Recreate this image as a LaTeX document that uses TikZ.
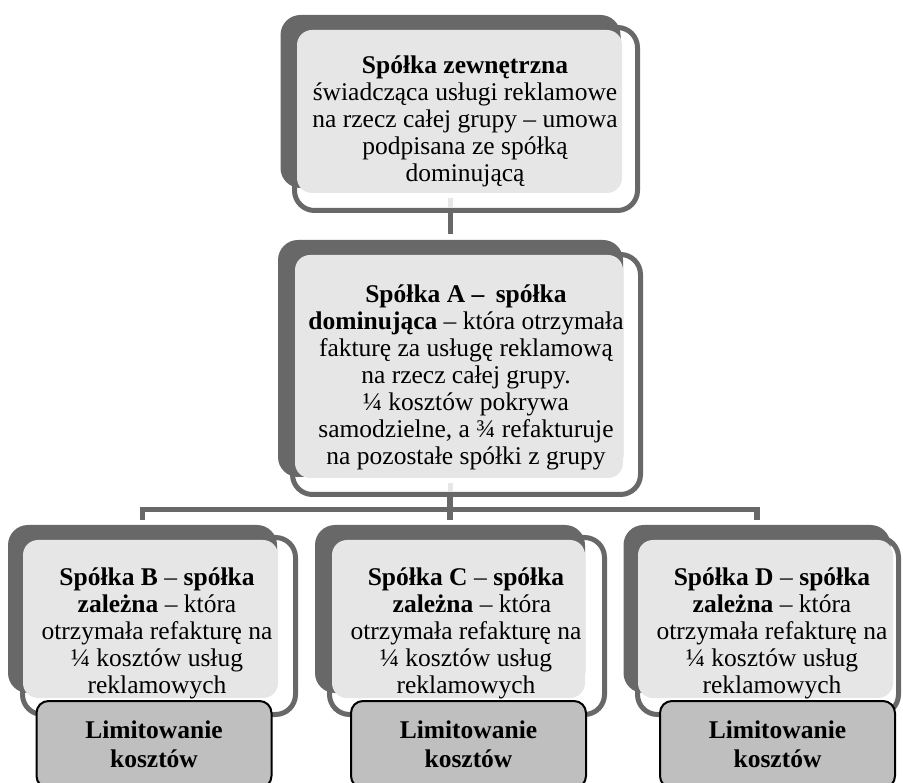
\documentclass[tikz,border=0pt]{standalone}
\usepackage{fontspec}
\setmainfont{Liberation Serif}
\usetikzlibrary{calc}
\definecolor{boxdark}{HTML}{686868}
\definecolor{boxlight}{HTML}{E6E6E6}
\definecolor{limitfill}{HTML}{BFBFBF}
\tikzstyle{back}=[rounded corners=20pt, fill=boxdark, inner sep=0pt]
\tikzstyle{rim}=[rounded corners=20pt, draw=boxdark, line width=5pt, inner sep=0pt]
\tikzstyle{face}=[rounded corners=15pt, fill=boxlight, inner sep=0pt]
\tikzstyle{txt}=[align=center, inner sep=0pt, anchor=north, font=\fontsize{25.5}{27}\selectfont]
\tikzstyle{limit}=[rounded corners=12pt, draw=black, line width=2pt, fill=limitfill, align=center, inner sep=0pt, minimum width=235pt, minimum height=87pt, font=\fontsize{25.5}{28.5}\selectfont\bfseries]
\tikzstyle{link}=[draw=boxdark, line width=5.5pt]
\tikzstyle{stub}=[draw=boxlight, line width=5.5pt]

\begin{document}
\begin{tikzpicture}[x=1pt, y=-1pt]
    \useasboundingbox (0,0) rectangle (903,783);
    % top box
    \node[back, minimum width=340pt, minimum height=173pt] (top-back) at (450.5,101.5) {};
    \node[rim, minimum width=343pt, minimum height=183pt] (top-rim) at (466,119) {};
    \node[face, minimum width=325pt, minimum height=163pt] (top-face) at (459.5,111.5) {};
    \node[txt] (top) at (465,55.4) {\textbf{Spółka zewnętrzna}\\ świadcząca usługi reklamowe\\ na rzecz całej grupy – umowa\\ podpisana ze spółką\\ dominującą};
    % company A
    \node[back, minimum width=345pt, minimum height=237pt] (a-back) at (450.5,358.5) {};
    \node[rim, minimum width=348pt, minimum height=240pt] (a-rim) at (466.5,374.5) {};
    \node[face, minimum width=328pt, minimum height=223pt] (a-face) at (459,366.5) {};
    \node[txt] (a) at (466,284.4) {\textbf{Spółka A –\hspace{0.45em}spółka}\\ \textbf{dominująca} – która otrzymała\\ fakturę za usługę reklamową\\ na rzecz całej grupy.\hspace*{22pt}\\ ¼ kosztów pokrywa\hspace*{26pt}\\ samodzielne, a ¾ refakturuje\\ na pozostałe spółki z grupy};
    % companies B, C, D
    \node[back, minimum width=269pt, minimum height=168pt] (b-back) at (142.5,609) {};
    \node[rim, minimum width=273pt, minimum height=177pt] (b-rim) at (159,626) {};
    \node[face, minimum width=255pt, minimum height=158pt] (b-face) at (150.5,619) {};
    \node[txt] (b) at (157,567.4) {\textbf{Spółka B} – \textbf{spółka}\\ \textbf{zależna} – która\\ otrzymała refakturę na\\ ¼ kosztów usług\\ reklamowych};

    \node[back, minimum width=270pt, minimum height=168pt] (c-back) at (450,609) {};
    \node[rim, minimum width=275pt, minimum height=177pt] (c-rim) at (467,626) {};
    \node[face, minimum width=253pt, minimum height=158pt] (c-face) at (458.5,619) {};
    \node[txt] (c) at (466,567.4) {\textbf{Spółka C} – \textbf{spółka}\\ \hspace*{12pt}\textbf{zależna} – która\\ otrzymała refakturę na\\ ¼ kosztów usług\\ reklamowych};

    \node[back, minimum width=267pt, minimum height=168pt] (d-back) at (757,609) {};
    \node[rim, minimum width=261pt, minimum height=177pt] (d-rim) at (768,626) {};
    \node[face, minimum width=255pt, minimum height=158pt] (d-face) at (765.5,619) {};
    \node[txt] (d) at (772,567.4) {\textbf{Spółka D} – \textbf{spółka}\\ \textbf{zależna} – która\\ otrzymała refakturę na\\ ¼ kosztów usług\\ reklamowych};
    % connectors
    \coordinate (bus) at (450,509.5);
    \draw[stub] ($(top-face.south -| top-back.south)+(0,5)$) -- ($(top-rim.south -| top-back.south)+(0,-5)$);
    \draw[link] (top-rim.south -| top-back.south) -- ($(a-back.north)+(0,-6)$);
    \draw[stub] ($(a-face.south -| a-back.south)+(0,5)$) -- ($(a-rim.south -| a-back.south)+(0,-5)$);
    \draw[link] (a-rim.south -| c-back.north) -- ($(c-back.north)+(0,-5)$);
    \draw[link] ($(b-back.north)+(0,-5)$) |- (bus) -| ($(d-back.north)+(0,-5)$);
    % cost limits
    \node[limit] (lb) at (154,744.5) {Limitowanie\\ kosztów};
    \node[limit] (lc) at (468.5,744.5) {Limitowanie\\ kosztów};
    \node[limit] (ld) at (777.5,744.5) {Limitowanie\\ kosztów};
\end{tikzpicture}
\end{document}
